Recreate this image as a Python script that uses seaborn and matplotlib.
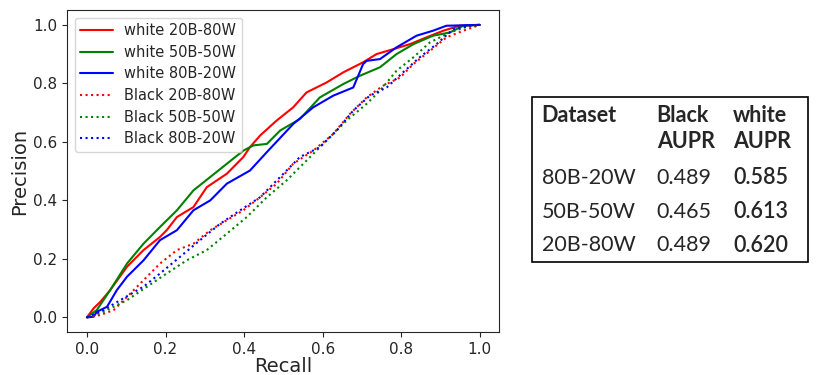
import numpy as np
import pandas as pd
import matplotlib
matplotlib.use("Agg")
import matplotlib.pyplot as plt
import seaborn as sns
from matplotlib.patches import Rectangle

# precision-recall curves (recall, precision)
white_20b_80w_recall = [0, 0.017, 0.034, 0.059, 0.102, 0.144, 0.186, 0.203, 0.229, 0.271, 0.305, 0.356,
                        0.398, 0.415, 0.441, 0.483, 0.525, 0.559, 0.61, 0.653, 0.703, 0.737, 0.78, 0.822,
                        0.864, 0.907, 0.949, 1.0]
white_20b_80w_prec = [0, 0.031, 0.053, 0.093, 0.173, 0.23, 0.275, 0.298, 0.343, 0.377, 0.445, 0.491,
                      0.548, 0.582, 0.622, 0.673, 0.718, 0.769, 0.803, 0.838, 0.872, 0.9, 0.917, 0.934,
                      0.957, 0.98, 0.997, 1.0]

white_50b_50w_recall = [0, 0.025, 0.059, 0.102, 0.144, 0.186, 0.229, 0.271, 0.314, 0.356, 0.398, 0.424,
                        0.458, 0.492, 0.542, 0.593, 0.653, 0.695, 0.746, 0.788, 0.831, 0.881, 0.924,
                        0.958, 1.0]
white_50b_50w_prec = [0, 0.025, 0.093, 0.184, 0.252, 0.309, 0.366, 0.434, 0.48, 0.525, 0.57, 0.588,
                      0.593, 0.639, 0.678, 0.752, 0.798, 0.826, 0.855, 0.9, 0.934, 0.963, 0.974,
                      0.997, 1.0]

white_80b_20w_recall = [0, 0.017, 0.025, 0.051, 0.076, 0.102, 0.144, 0.186, 0.229, 0.271, 0.314, 0.356,
                        0.415, 0.458, 0.525, 0.576, 0.627, 0.678, 0.703, 0.712, 0.746, 0.788, 0.839,
                        0.881, 0.915, 1.0]
white_80b_20w_prec = [0, 0.002, 0.019, 0.036, 0.093, 0.139, 0.195, 0.264, 0.298, 0.366, 0.4, 0.457,
                      0.502, 0.565, 0.661, 0.718, 0.758, 0.786, 0.866, 0.877, 0.883, 0.923, 0.963,
                      0.98, 0.997, 1.0]

black_20b_80w_recall = [0, 0.034, 0.068, 0.102, 0.144, 0.186, 0.229, 0.271, 0.314, 0.356, 0.398, 0.441,
                        0.483, 0.525, 0.576, 0.627, 0.669, 0.712, 0.754, 0.797, 0.831, 0.873, 0.915,
                        0.958, 1.0]
black_20b_80w_prec = [0, 0.008, 0.025, 0.07, 0.127, 0.184, 0.23, 0.252, 0.298, 0.332, 0.366, 0.411,
                      0.457, 0.525, 0.57, 0.627, 0.695, 0.752, 0.792, 0.82, 0.866, 0.911, 0.957,
                      0.98, 1.0]

black_50b_50w_recall = [0, 0.042, 0.102, 0.153, 0.203, 0.254, 0.305, 0.356, 0.407, 0.458, 0.508, 0.559,
                        0.61, 0.661, 0.712, 0.746, 0.788, 0.831, 0.873, 0.924, 0.966, 1.0]
black_50b_50w_prec = [0, 0.019, 0.059, 0.105, 0.15, 0.195, 0.23, 0.286, 0.343, 0.411, 0.468, 0.536,
                      0.605, 0.673, 0.73, 0.775, 0.843, 0.889, 0.94, 0.974, 0.993, 1.0]

black_80b_20w_recall = [0, 0.042, 0.085, 0.144, 0.186, 0.237, 0.288, 0.339, 0.39, 0.441, 0.492, 0.542,
                        0.593, 0.636, 0.678, 0.72, 0.763, 0.805, 0.847, 0.89, 0.932, 0.975, 1.0]
black_80b_20w_prec = [0, 0.025, 0.059, 0.105, 0.15, 0.207, 0.264, 0.32, 0.366, 0.411, 0.48, 0.548,
                      0.582, 0.639, 0.707, 0.758, 0.786, 0.838, 0.889, 0.934, 0.985, 0.997, 1.0]

# table on the right
datasets = ["80B-20W", "50B-50W", "20B-80W"]
black_aupr = ["0.489", "0.465", "0.489"]
white_aupr = ["0.585", "0.613", "0.620"]

curves = [
    ("white 20B-80W", white_20b_80w_recall, white_20b_80w_prec, "red", "-"),
    ("white 50B-50W", white_50b_50w_recall, white_50b_50w_prec, "green", "-"),
    ("white 80B-20W", white_80b_20w_recall, white_80b_20w_prec, "blue", "-"),
    ("Black 20B-80W", black_20b_80w_recall, black_20b_80w_prec, "red", ":"),
    ("Black 50B-50W", black_50b_50w_recall, black_50b_50w_prec, "green", ":"),
    ("Black 80B-20W", black_80b_20w_recall, black_80b_20w_prec, "blue", ":"),
]

sns.set_style("ticks")
plt.rcParams["font.family"] = ["DejaVu Sans"]

fig = plt.figure(figsize=(8.16, 3.75), dpi=100)
ax = fig.add_axes([0.0825, 0.1147, 0.5295, 0.858])

for name, rec, prec, color, ls in curves:
    df = pd.DataFrame({"Recall": rec, "Precision": prec})
    sns.lineplot(data=df, x="Recall", y="Precision", color=color, linestyle=ls,
                 linewidth=1.5, label=name, ax=ax, sort=False)

ax.set_xlim(-0.05, 1.05)
ax.set_ylim(-0.05, 1.05)
ax.set_xticks(np.arange(0, 1.01, 0.2))
ax.set_yticks(np.arange(0, 1.01, 0.2))
ax.tick_params(labelsize=11)
ax.set_xlabel("Recall", fontsize=14, labelpad=0)
ax.set_ylabel("Precision", fontsize=14, labelpad=3)
ax.legend(loc="upper left", fontsize=10.5, handlelength=2.2, borderaxespad=0.5, labelspacing=0.45)

# table
fig.patches.append(Rectangle((531.7 / 816, 1 - 262 / 375), (808 - 531.7) / 816, (262 - 97.3) / 375,
                             transform=fig.transFigure, fill=False, edgecolor="black", linewidth=1.2))
tfont = ["Lato", "DejaVu Sans"]
fs = 15.5
col_x = [541.7 / 816, 656.7 / 816, 733.3 / 816]
fig.text(col_x[0], 1 - 115 / 375, "Dataset", family=tfont, fontweight="bold", fontsize=fs, va="center")
fig.text(col_x[1], 1 - 115 / 375, "Black", family=tfont, fontweight="bold", fontsize=fs, va="center")
fig.text(col_x[2], 1 - 115 / 375, "white", family=tfont, fontweight="bold", fontsize=fs, va="center")
fig.text(col_x[1], 1 - 141.7 / 375, "AUPR", family=tfont, fontweight="bold", fontsize=fs, va="center")
fig.text(col_x[2], 1 - 141.7 / 375, "AUPR", family=tfont, fontweight="bold", fontsize=fs, va="center")
row_y = [178, 211.7, 245]
for i, d in enumerate(datasets):
    y = 1 - row_y[i] / 375
    fig.text(col_x[0], y, d, family=tfont, fontsize=fs, va="center")
    fig.text(col_x[1], y, black_aupr[i], family=tfont, fontsize=fs, va="center")
    fig.text(col_x[2], y, white_aupr[i], family=tfont, fontweight="semibold", fontsize=fs, va="center")

fig.savefig("out.png", dpi=100)
